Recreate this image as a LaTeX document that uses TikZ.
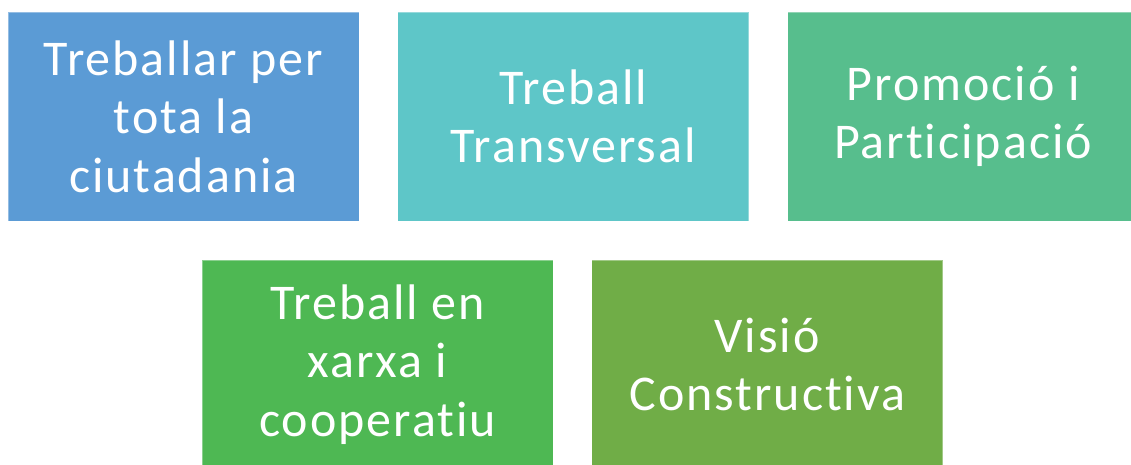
\documentclass[tikz,border=0pt]{standalone}
\usepackage{fontspec}
\setmainfont[LetterSpace=4,Ligatures={NoCommon,NoContextual}]{Carlito}
\usepackage{tikz}
\usetikzlibrary{positioning}
\definecolor{blauCiut}{HTML}{5B9BD5}
\definecolor{turqTrans}{HTML}{5EC6C8}
\definecolor{verdProm}{HTML}{57BE8D}
\definecolor{verdXarxa}{HTML}{4EB853}
\definecolor{verdVisio}{HTML}{70AD47}

\begin{document}
\begin{tikzpicture}[x=1pt,y=-1pt,
    caixa/.style={rectangle,draw=white,draw opacity=0.35,line width=0.8pt,
        minimum width=351pt,minimum height=209pt,inner sep=0pt,
        text=white,align=center,
        font=\fontsize{50}{58.6}\selectfont}]
\useasboundingbox (0,0) rectangle (1131,464);
%,nodes={fill=blue!20}]
\node [caixa,fill=blauCiut] (ciut) at (183.5,116.5) {Treballar per\\tota la\\ciutadania};
\node [caixa,fill=turqTrans,right=38pt of ciut] (trans) {Treball\\Transversal};
\node [caixa,fill=verdProm,right=38pt of trans] (prom) {Promoció i\\Participació};
\node [caixa,fill=verdXarxa] (xarxa) at (377.5,364.5) {Treball en\\xarxa i\\cooperatiu};
\node [caixa,fill=verdVisio,right=38pt of xarxa] (visio) {Visió\\Constructiva};
\end{tikzpicture}
\end{document}
